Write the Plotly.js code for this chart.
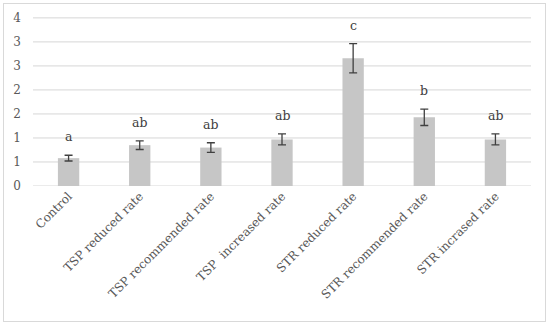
<!DOCTYPE html>
<html><head><meta charset="utf-8">
<script src="https://cdn.plot.ly/plotly-3.0.1.min.js"></script>
<style>html,body{margin:0;padding:0;background:#fff}#frame{position:absolute;left:3px;top:3px;width:543px;height:319px;border:1px solid #d9d9d9;box-sizing:border-box}#chart{width:550px;height:326px}</style>
</head><body>
<div id="chart"></div><div id="frame"></div>
<script>
const categories = ["Control","TSP reduced rate","TSP recommended rate","TSP  increased rate","STR reduced rate","STR recommended rate","STR incrased rate"];
const values = [0.58, 0.85, 0.80, 0.97, 2.66, 1.43, 0.97];
const errors = [0.06, 0.09, 0.10, 0.115, 0.305, 0.17, 0.115];
const letters = ["a","ab","ab","ab","c","b","ab"];
const yTickVals = [0,0.5,1,1.5,2,2.5,3,3.5];
const yTickText = ["0","1","1","2","2","3","3","4"];

const font = "DejaVu Serif, serif";
const trace = {
  type:"bar", x:categories, y:values, width:0.3,
  marker:{color:"#c6c6c6"},
  error_y:{type:"data", array:errors, visible:true, color:"#404040", thickness:1.3, width:4}
};
const annotations = categories.map((c,i)=>({
  x:c, y:values[i]+errors[i], text:letters[i], showarrow:false,
  yanchor:"bottom", yshift:9, font:{family:font, size:12.5, color:"#404040"}
}));
const gridShapes = yTickVals.map(v=>({
  type:"line", xref:"paper", yref:"y", x0:0, x1:1, y0:v, y1:v, layer:"below",
  line:{color:"#d6d6d6", width:1}
}));
const layout = {
  width:550, height:326,
  margin:{l:33, r:19, t:15, b:140},
  paper_bgcolor:"rgba(0,0,0,0)", plot_bgcolor:"#fff",
  showlegend:false,
  font:{family:font, size:12, color:"#595959"},
  xaxis:{tickangle:-45, showgrid:false, showline:false, ticks:"", tickfont:{family:font, size:12, color:"#595959"}},
  yaxis:{range:[0,3.56], tickvals:yTickVals, ticktext:yTickText, showgrid:false,
    zeroline:false, showline:false, ticks:"", ticklabelstandoff:11,
    tickfont:{family:font, size:12, color:"#595959"}},
  shapes:gridShapes,
  annotations:annotations
};
Plotly.newPlot("chart",[trace],layout,{displayModeBar:false, staticPlot:true});
</script>
</body></html>
